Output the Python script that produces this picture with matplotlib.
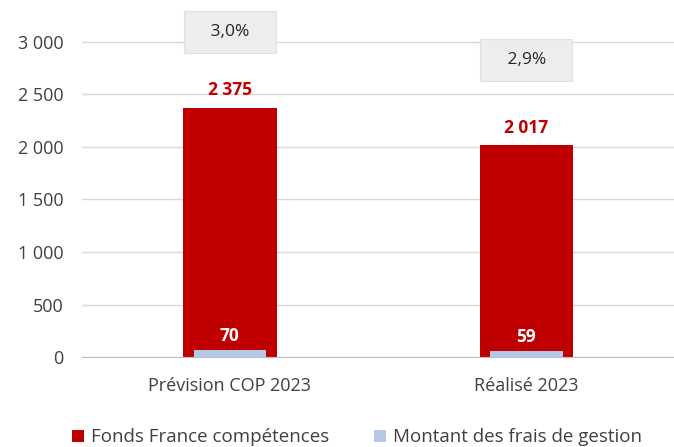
import matplotlib.pyplot as plt
import numpy as np

plt.rcParams['font.family'] = ['Open Sans', 'DejaVu Sans']

categories = ['Prévision COP 2023', 'Réalisé 2023']
fonds = [2375, 2017]
frais = [70, 59]
taux = ['3,0%', '2,9%']
taux_pos = [3095, 2830]
fonds_labels = ['2 375', '2 017']

red = '#C00000'
blue = '#B4C7E7'

fig = plt.figure(figsize=(6.74, 4.47), dpi=100)
ax = fig.add_axes([0.121, 0.201, 0.88, 0.776])

x = np.arange(len(categories))
ax.bar(x, fonds, width=0.315, color=red, zorder=2, label='Fonds France compétences')
ax.bar(x, frais, width=0.245, color=blue, zorder=3, label='Montant des frais de gestion')

for i in x:
    ax.text(i, fonds[i] + 80, fonds_labels[i], ha='center', va='bottom',
            color=red, fontsize=12.5, fontweight='bold')
    ax.text(i, frais[i] + 45, str(frais[i]), ha='center', va='bottom',
            color='white', fontsize=12.5, fontweight='bold', zorder=4)
    ax.text(i, taux_pos[i], '   ' + taux[i] + '   ', ha='center', va='center',
            fontsize=12.5, color='#262626', zorder=4,
            bbox=dict(boxstyle='square,pad=0.75', fc='#EDEDED', ec='#E0E0E0', lw=0.8))

ax.set_xlim(-0.5, 1.5)
ax.set_ylim(0, 3300)
ax.set_yticks(range(0, 3001, 500))
ax.set_yticklabels([f'{v:,}'.replace(',', ' ') for v in range(0, 3001, 500)])
ax.set_xticks(x)
ax.set_xticklabels(categories)
ax.tick_params(axis='both', length=0, labelsize=13, labelcolor='#404040')
ax.tick_params(axis='x', pad=14)
ax.tick_params(axis='y', pad=13)
ax.yaxis.grid(True, color='#D9D9D9', lw=1)
ax.set_axisbelow(True)
for s in ['top', 'right', 'left']:
    ax.spines[s].set_visible(False)
ax.spines['bottom'].set_color('#BFBFBF')

ax.legend(loc='lower center', bbox_to_anchor=(0.465, -0.262), ncol=2, frameon=False,
          fontsize=13.5, handlelength=0.6, handleheight=0.6, columnspacing=2.4,
          handletextpad=0.4, labelcolor='#404040', borderaxespad=0, borderpad=0.1)

fig.savefig('out.png', dpi=100)
